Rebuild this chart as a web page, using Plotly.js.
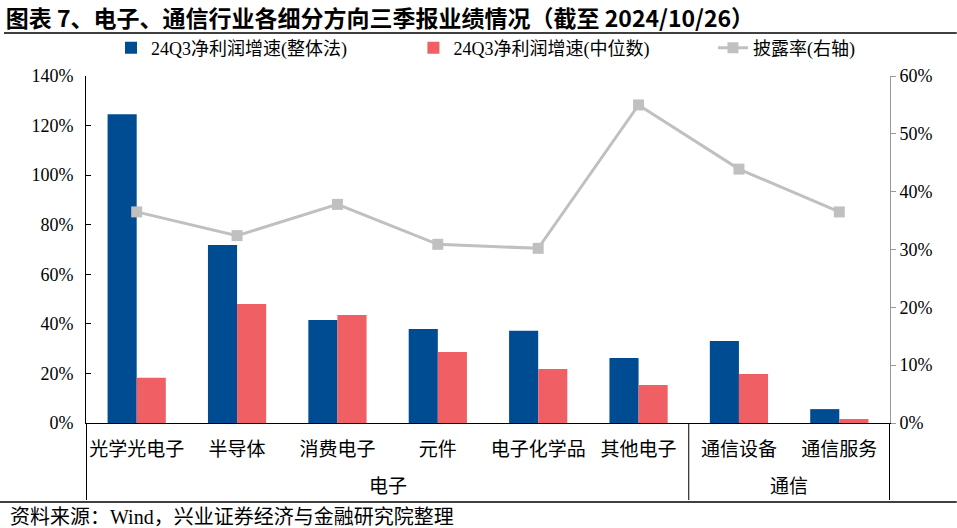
<!DOCTYPE html>
<html>
<head>
<meta charset="utf-8">
<script src="https://cdn.plot.ly/plotly-3.0.1.min.js"></script>
<style>
  html, body { margin: 0; padding: 0; background: #fff; }
  #chart { width: 957px; height: 528px; }
</style>
</head>
<body>
<div id="chart"></div>
<script>
// 细分方向 + 所属行业
var categories = ['光学光电子', '半导体', '消费电子', '元件', '电子化学品', '其他电子', '通信设备', '通信服务'];
var groupNames = ['电子', '通信'];
var groupSizes = [6, 2];

// 24Q3净利润增速（%）
var growthTotal = [124.6, 71.8, 41.6, 37.9, 37.2, 26.2, 33.1, 5.6];
var growthMedian = [18.3, 48.0, 43.6, 28.6, 21.8, 15.3, 19.8, 1.6];
// 披露率（%，右轴）
var disclosure = [36.5, 32.4, 37.8, 30.9, 30.2, 55.0, 43.9, 36.5];

var leftTicks = [0, 20, 40, 60, 80, 100, 120, 140];
var rightTicks = [0, 10, 20, 30, 40, 50, 60];

var fontFam = '"Liberation Serif", "Noto Sans CJK SC", serif';

var trace1 = {
  x: categories,
  y: growthTotal,
  type: 'bar',
  name: '24Q3净利润增速(整体法)',
  legend: 'legend',
  marker: {color: '#004C93'}
};

var trace2 = {
  x: categories,
  y: growthMedian,
  type: 'bar',
  name: '24Q3净利润增速(中位数)',
  legend: 'legend2',
  marker: {color: '#EF5F63'}
};

var trace3 = {
  x: categories,
  y: disclosure,
  type: 'scatter',
  mode: 'lines+markers',
  name: '披露率(右轴)',
  yaxis: 'y2',
  legend: 'legend3',
  line: {color: '#C0C0C0', width: 3},
  marker: {color: '#C0C0C0', symbol: 'square', size: 11}
};

// group labels and divider lines under the axis
var shapes = [
  {type: 'line', xref: 'paper', yref: 'paper', x0: -0.102, x1: 1.083, y0: 1.124, y1: 1.124,
   line: {color: '#000', width: 1.5}},
  {type: 'line', xref: 'paper', yref: 'paper', x0: -0.107, x1: 1.083, y0: -0.228, y1: -0.228,
   line: {color: '#000', width: 1.5}}
];
var annotations = [
  {text: '资料来源：Wind，兴业证券经济与金融研究院整理', xref: 'paper', yref: 'paper',
   x: -0.097, y: -0.271, xanchor: 'left', yanchor: 'middle', showarrow: false,
   font: {family: fontFam, size: 20, color: '#000'}}
];
var start = 0;
shapes.push({type: 'line', xref: 'x', yref: 'paper', x0: -0.5, x1: -0.5, y0: 0, y1: -0.222,
             line: {color: '#000', width: 1}});
for (var g = 0; g < groupNames.length; g++) {
  var end = start + groupSizes[g];
  shapes.push({type: 'line', xref: 'x', yref: 'paper', x0: end - 0.5, x1: end - 0.5, y0: 0, y1: -0.222,
               line: {color: '#000', width: 1}});
  annotations.push({text: groupNames[g], xref: 'x', yref: 'paper', x: (start + end - 1) / 2, y: -0.184,
                    xanchor: 'center', yanchor: 'middle', showarrow: false,
                    font: {family: fontFam, size: 19, color: '#000'}});
  start = end;
}

function legendAt(x) {
  return {
    orientation: 'h',
    xref: 'container', yref: 'container',
    x: x, xanchor: 'left',
    y: 0.909, yanchor: 'middle',
    bgcolor: 'rgba(0,0,0,0)',
    font: {family: fontFam, size: 18}
  };
}

var layout = {
  width: 957,
  height: 528,
  margin: {l: 86, r: 67, t: 76, b: 105},
  paper_bgcolor: '#fff',
  plot_bgcolor: '#fff',
  font: {family: fontFam, size: 18, color: '#000'},
  title: {
    text: '<b>图表 7、电子、通信行业各细分方向三季报业绩情况（截至 2024/10/26）</b>',
    font: {family: '"Noto Sans CJK SC", "Liberation Serif", sans-serif', size: 23, color: '#000'},
    xref: 'container', x: 0.006, xanchor: 'left',
    yref: 'container', y: 0.965, yanchor: 'middle'
  },
  barmode: 'group',
  bargap: 0.42,
  bargroupgap: 0,
  showlegend: true,
  legend: legendAt(0.116),
  legend2: legendAt(0.432),
  legend3: legendAt(0.745),
  xaxis: {
    type: 'category',
    showline: true,
    linecolor: '#000',
    linewidth: 1,
    ticks: '',
    ticklabelstandoff: 9,
    tickfont: {family: fontFam, size: 19},
    showgrid: false,
    zeroline: false
  },
  yaxis: {
    range: [0, 140],
    tickvals: leftTicks,
    ticktext: leftTicks.map(function (v) { return v + '%'; }),
    showline: true,
    linecolor: '#000',
    ticks: 'inside',
    ticklen: 5,
    tickcolor: '#000',
    ticklabelstandoff: 8,
    showgrid: false,
    zeroline: false,
    tickfont: {family: fontFam, size: 18}
  },
  yaxis2: {
    range: [0, 60],
    overlaying: 'y',
    side: 'right',
    tickvals: rightTicks,
    ticktext: rightTicks.map(function (v) { return v + '%'; }),
    showline: true,
    linecolor: '#999',
    ticks: 'outside',
    ticklen: 5,
    tickcolor: '#999',
    showgrid: false,
    zeroline: false,
    tickfont: {family: fontFam, size: 18}
  },
  shapes: shapes,
  annotations: annotations
};

Plotly.newPlot('chart', [trace1, trace2, trace3], layout, {displayModeBar: false});
</script>
</body>
</html>
